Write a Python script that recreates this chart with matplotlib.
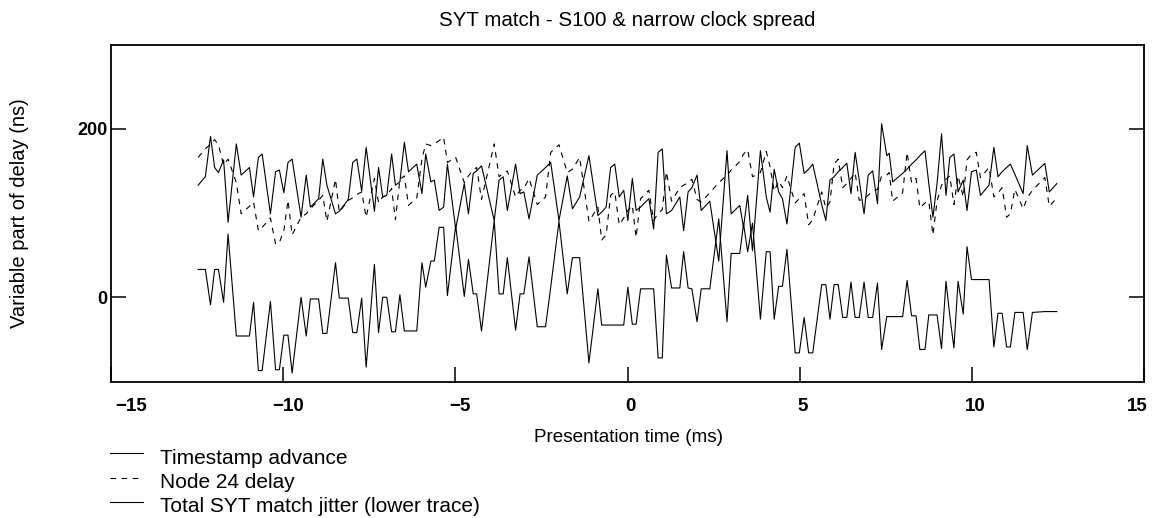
import matplotlib
matplotlib.use("Agg")
import matplotlib.pyplot as plt
from matplotlib.lines import Line2D
from matplotlib.transforms import ScaledTranslation, blended_transform_factory

plt.rcParams['font.family'] = ['Liberation Sans', 'DejaVu Sans']

# Presentation time of each sample (ms)
time_ms = [
    -12.47, -12.26, -12.11, -11.99, -11.88, -11.73, -11.60, -11.36, -11.22, -10.98,
    -10.86, -10.72, -10.61, -10.37, -10.22, -10.11, -9.98, -9.86, -9.74, -9.48,
    -9.33, -9.21, -9.04, -8.97, -8.85, -8.73, -8.48, -8.37, -8.11, -7.98,
    -7.86, -7.72, -7.59, -7.35, -7.23, -7.11, -6.99, -6.85, -6.74, -6.61,
    -6.48, -6.36, -6.12, -5.97, -5.86, -5.71, -5.61, -5.47, -5.34, -5.23,
    -4.99, -4.74, -4.62, -4.48, -4.38, -4.24, -3.87, -3.73, -3.61, -3.49,
    -3.25, -3.12, -3.01, -2.86, -2.62, -2.38, -2.23, -1.99, -1.75, -1.60,
    -1.39, -1.12, -0.86, -0.75, -0.62, -0.49, -0.37, -0.24, -0.11, 0.01,
    0.14, 0.25, 0.38, 0.62, 0.76, 0.89, 1.01, 1.13, 1.28, 1.52,
    1.63, 1.76, 1.87, 2.02, 2.14, 2.39, 2.65, 2.89, 3.01, 3.26,
    3.37, 3.49, 3.63, 3.86, 4.03, 4.14, 4.26, 4.39, 4.50, 4.63,
    4.87, 4.99, 5.13, 5.26, 5.38, 5.64, 5.76, 5.88, 6.00, 6.12,
    6.25, 6.37, 6.49, 6.61, 6.73, 6.87, 6.99, 7.12, 7.26, 7.38,
    7.53, 7.60, 7.70, 7.99, 8.12, 8.25, 8.38, 8.49, 8.64, 8.75,
    8.87, 8.99, 9.12, 9.25, 9.36, 9.48, 9.60, 9.75, 9.86, 9.99,
    10.13, 10.25, 10.50, 10.64, 10.76, 10.88, 11.01, 11.12, 11.25, 11.49,
    11.61, 11.76, 12.12, 12.25, 12.47,
]

# Timestamp advance (ns)
advance_ns = [
    133, 143, 191, 154, 148, 163, 89, 182, 145, 154,
    119, 166, 170, 99, 149, 151, 124, 160, 164, 95,
    145, 107, 114, 117, 164, 133, 99, 102, 116, 160,
    164, 126, 178, 102, 154, 119, 121, 170, 133, 137,
    184, 149, 158, 123, 170, 137, 139, 103, 107, 158,
    81, 135, 99, 147, 150, 156, 91, 139, 143, 103,
    158, 123, 125, 93, 145, 154, 160, 91, 144, 105,
    119, 168, 97, 101, 107, 154, 158, 119, 127, 91,
    141, 103, 107, 117, 81, 172, 176, 99, 103, 119,
    79, 125, 130, 145, 103, 114, 43, 174, 99, 109,
    83, 121, 55, 174, 119, 101, 152, 125, 117, 87,
    178, 183, 147, 152, 158, 110, 91, 139, 143, 149,
    154, 159, 123, 172, 139, 99, 145, 150, 111, 206,
    168, 171, 137, 147, 152, 158, 163, 168, 174, 135,
    95, 135, 194, 121, 166, 170, 125, 139, 103, 149,
    151, 121, 133, 178, 143, 149, 154, 158, 146, 123,
    180, 145, 159, 125, 135,
]

# Node 24 delay (ns)
node24_ns = [
    166, 176, 182, 187, 181, 157, 164, 136, 99, 108,
    113, 79, 83, 94, 63, 65, 79, 115, 74, 95,
    99, 105, 112, 115, 121, 90, 140, 101, 115, 118,
    122, 125, 95, 141, 112, 119, 121, 129, 92, 140,
    144, 109, 118, 164, 182, 180, 182, 186, 190, 160,
    166, 136, 144, 151, 154, 116, 182, 143, 147, 150,
    119, 127, 129, 141, 110, 119, 172, 181, 148, 152,
    166, 90, 107, 68, 74, 121, 125, 86, 94, 103,
    109, 71, 117, 127, 91, 100, 104, 149, 114, 130,
    133, 136, 140, 116, 113, 124, 136, 145, 151, 161,
    170, 175, 143, 148, 173, 155, 126, 138, 130, 144,
    112, 117, 123, 86, 92, 125, 106, 113, 158, 164,
    130, 135, 141, 148, 115, 117, 121, 126, 128, 144,
    145, 148, 114, 124, 172, 136, 141, 106, 112, 114,
    74, 114, 133, 140, 144, 110, 144, 119, 163, 170,
    172, 142, 154, 119, 124, 130, 95, 99, 128, 105,
    118, 127, 142, 108, 118,
]

# Total SYT match jitter (ns)
jitter_ns = [
    33, 33, -9, 33, 33, -6, 75, -46, -46, -46,
    -6, -87, -87, -5, -86, -86, -45, -45, -90, 0,
    -46, -2, -2, -2, -43, -43, 41, -1, -1, -42,
    -42, -1, -83, 39, -42, 0, 0, -41, -41, 3,
    -40, -40, -40, 41, 12, 43, 43, 83, 83, 2,
    85, 1, 45, 4, 4, -40, 91, 4, 4, 47,
    -39, 4, 4, 48, -35, -35, 12, 90, 4, 47,
    47, -78, 10, -33, -33, -33, -33, -33, -33, 12,
    -32, -32, 10, 10, 10, -72, -72, 50, 11, 11,
    54, 11, 10, -29, 10, 10, 93, -29, 52, 52,
    87, 54, 88, -26, 54, 54, -26, 13, 13, 57,
    -66, -66, -24, -66, -66, 15, 15, -26, 15, 15,
    -24, -24, 18, -24, -24, 18, -24, -24, 17, -62,
    -23, -23, -23, -23, 20, -22, -22, -62, -62, -21,
    -21, -21, -61, 19, -22, -60, 19, -20, 60, 21,
    21, 21, 21, -59, -19, -19, -59, -59, -18, -18,
    -62, -18, -17, -17, -17,
]

x_ticks = [-15, -10, -5, 0, 5, 10, 15]
y_ticks = [0, 200]
series_labels = ["Timestamp advance", "Node 24 delay",
                 "Total SYT match jitter (lower trace)"]

W, H = 1154, 518
fig = plt.figure(figsize=(W / 100, H / 100), dpi=100)
left, right, top, bottom = 111, 1144, 44.5, 381.5
ax = fig.add_axes([left / W, 1 - bottom / H, (right - left) / W, (bottom - top) / H])

lw = 0.8
dash = (0, (5, 5))
ax.plot(time_ms, advance_ns, color="black", lw=lw)
ax.plot(time_ms, node24_ns, color="black", lw=lw, linestyle=dash)
ax.plot(time_ms, jitter_ns, color="black", lw=lw)

ax.set_xlim(-15, 15)
ax.set_ylim(-100, 300)
ax.set_xticks(x_ticks)
ax.set_yticks(y_ticks)
for s in ax.spines.values():
    s.set_linewidth(1.3)
ax.tick_params(axis="both", direction="in", length=11, width=1.1)
ax.tick_params(axis="y", right=True, labelsize=13, pad=2.5)
ax.tick_params(axis="x", top=False, labelbottom=False)
for lab in ax.get_yticklabels():
    lab.set_fontweight("bold")

# x tick labels, edge labels pulled inside the frame
xtrans = blended_transform_factory(ax.transData, ax.transAxes)
for v in x_ticks:
    dx = 5 if v < 0 else 3
    if v == x_ticks[0]:
        dx = 20
    elif v == x_ticks[-1]:
        dx = -7
    t = xtrans + ScaledTranslation(dx / 100, -25 / 100, fig.dpi_scale_trans)
    ax.text(v, 0, str(v).replace("-", "\u2212"), transform=t, ha="center",
            va="center", fontsize=13.5, fontweight="bold")

fig.text(627 / W, 1 - 20 / H, "SYT match - S100 & narrow clock spread",
         ha="center", va="center", fontsize=14.8)
fig.text(628 / W, 1 - 437 / H, "Presentation time (ms)",
         ha="center", va="center", fontsize=13.6)
fig.text(20 / W, 1 - 213 / H, "Variable part of delay (ns)", rotation=90,
         ha="center", va="center", fontsize=14.5)

# legend rows below the axis
styles = ["-", dash, "-"]
line_y = [453, 478, 502]
text_y = [459, 482, 506]
for lab, st, ly, ty in zip(series_labels, styles, line_y, text_y):
    fig.add_artist(Line2D([110 / W, 143 / W], [1 - ly / H, 1 - ly / H],
                          color="black", lw=lw, linestyle=st,
                          transform=fig.transFigure))
    fig.text(160 / W, 1 - ty / H, lab, ha="left", va="center", fontsize=15)

fig.savefig("out.png", dpi=100)
